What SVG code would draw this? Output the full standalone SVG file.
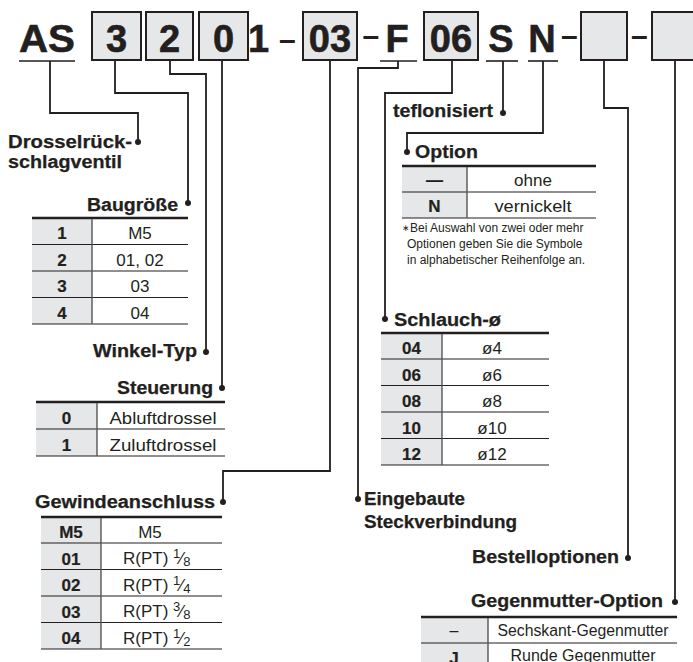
<svg xmlns="http://www.w3.org/2000/svg" width="693" height="662" viewBox="0 0 693 662">
<style>
text{font-family:"Liberation Sans",Arial,Helvetica,sans-serif;fill:#231f20}
.h{font-size:38px;font-weight:bold;stroke:#231f20;stroke-width:0.6}
.d{font-size:30px;font-weight:bold}
.lb{font-size:17.5px;font-weight:bold;stroke:#231f20;stroke-width:0.25}
.k{font-size:17px;font-weight:bold;text-anchor:middle;stroke:#231f20;stroke-width:0.2}
.v{font-size:17px;text-anchor:middle}
.vs{font-size:17px}
.g{font-size:16px;text-anchor:middle}
.fn{font-size:12px}
.m{text-anchor:middle}
.e{text-anchor:end}
.box{fill:#e6e7e8;stroke:#231f20;stroke-width:2}
.ul{stroke:#231f20;stroke-width:1.6}
.con{fill:none;stroke:#231f20;stroke-width:1.8}
.dot{fill:#231f20}
.kc{fill:#e6e7e8}
.top{stroke:#231f20;stroke-width:2.6}
.row{stroke:#231f20;stroke-width:1.1}
.dv{stroke:#555;stroke-width:1.4}
</style>
<rect width="693" height="662" fill="#fff"/>

<g id="header">
  <text class="h" x="19" y="52" textLength="56" lengthAdjust="spacingAndGlyphs">AS</text>
  <line class="ul" x1="19" y1="61" x2="75" y2="61"/>
  <rect class="box" x="92" y="12" width="49" height="48"/>
  <text class="h m" x="116.5" y="52">3</text>
  <rect class="box" x="146" y="12" width="47" height="48"/>
  <text class="h m" x="169.5" y="52">2</text>
  <rect class="box" x="199" y="12" width="49" height="48"/>
  <text class="h m" x="223.5" y="52">0</text>
  <text class="h" x="248" y="52">1</text>
  <text class="d" x="279" y="50">–</text>
  <rect class="box" x="303" y="12" width="54" height="48"/>
  <text class="h m" x="330" y="52">03</text>
  <text class="d" x="362.5" y="46">–</text>
  <text class="h" x="385.5" y="52">F</text>
  <line class="ul" x1="380" y1="61" x2="417" y2="61"/>
  <rect class="box" x="424" y="12" width="54" height="48"/>
  <text class="h m" x="451" y="52">06</text>
  <text class="h m" x="501" y="52">S</text>
  <line class="ul" x1="486" y1="61" x2="518" y2="61"/>
  <text class="h m" x="542" y="52">N</text>
  <line class="ul" x1="528" y1="61" x2="558" y2="61"/>
  <text class="d" x="561" y="46">–</text>
  <rect class="box" x="581" y="12" width="46" height="48"/>
  <text class="d" x="631" y="46">–</text>
  <rect class="box" x="652" y="12" width="48" height="48"/>
</g>

<g id="connectors">
  <path class="con" d="M50,61 V113 H138 V142"/>
  <circle class="dot" cx="138" cy="142" r="3"/>
  <path class="con" d="M115,60 V93 H188 V203"/>
  <circle class="dot" cx="188" cy="203" r="3"/>
  <path class="con" d="M170,60 V74 H206 V352"/>
  <circle class="dot" cx="206" cy="352" r="3"/>
  <path class="con" d="M222,60 V388"/>
  <circle class="dot" cx="222" cy="388" r="3"/>
  <path class="con" d="M330,60 V471 H223 V502"/>
  <circle class="dot" cx="223" cy="502" r="3"/>
  <path class="con" d="M398,61 V68 H358 V499"/>
  <circle class="dot" cx="358" cy="499" r="3"/>
  <path class="con" d="M452,60 V93 H385 V319"/>
  <circle class="dot" cx="385" cy="319" r="3"/>
  <path class="con" d="M503,61 V113"/>
  <circle class="dot" cx="503" cy="113" r="3"/>
  <path class="con" d="M543,61 V133 H407 V152"/>
  <circle class="dot" cx="407" cy="152" r="3"/>
  <path class="con" d="M604,60 V108 H628 V558"/>
  <circle class="dot" cx="628" cy="558" r="3"/>
  <path class="con" d="M675,60 V602"/>
  <circle class="dot" cx="675" cy="602" r="3"/>
</g>

<g id="drosselrueckschlagventil">
  <text class="lb" x="8" y="148" textLength="124" lengthAdjust="spacingAndGlyphs">Drosselrück-</text>
  <text class="lb" x="8" y="168" textLength="114" lengthAdjust="spacingAndGlyphs">schlagventil</text>
</g>

<g id="baugroesse">
  <text class="lb e" x="178" y="211" textLength="91" lengthAdjust="spacingAndGlyphs">Baugröße</text>
  <rect class="kc" x="32" y="218" width="60" height="106"/>
  <line class="top" x1="32" y1="218" x2="188" y2="218"/>
  <line class="row" x1="32" y1="244.5" x2="188" y2="244.5"/>
  <line class="row" x1="32" y1="271" x2="188" y2="271"/>
  <line class="row" x1="32" y1="297.5" x2="188" y2="297.5"/>
  <line class="row" x1="32" y1="324" x2="188" y2="324"/>
  <line class="dv" x1="92" y1="219" x2="92" y2="324"/>
  <text class="k" x="62" y="239">1</text><text class="v" x="140" y="239">M5</text>
  <text class="k" x="62" y="265.5">2</text><text class="v" x="140" y="265.5">01, 02</text>
  <text class="k" x="62" y="292">3</text><text class="v" x="140" y="292">03</text>
  <text class="k" x="62" y="318.5">4</text><text class="v" x="140" y="318.5">04</text>
</g>

<g id="winkel-typ">
  <text class="lb e" x="197" y="357" textLength="104" lengthAdjust="spacingAndGlyphs">Winkel-Typ</text>
</g>

<g id="steuerung">
  <text class="lb e" x="213" y="394" textLength="96" lengthAdjust="spacingAndGlyphs">Steuerung</text>
  <rect class="kc" x="36" y="402" width="61" height="54"/>
  <line class="top" x1="36" y1="402" x2="225" y2="402"/>
  <line class="row" x1="36" y1="429" x2="225" y2="429"/>
  <line class="row" x1="36" y1="456" x2="225" y2="456"/>
  <line class="dv" x1="97" y1="403" x2="97" y2="456"/>
  <text class="k" x="66.5" y="424">0</text><text class="v" x="163" y="424" textLength="107" lengthAdjust="spacingAndGlyphs">Abluftdrossel</text>
  <text class="k" x="66.5" y="451">1</text><text class="v" x="163" y="451" textLength="107" lengthAdjust="spacingAndGlyphs">Zuluftdrossel</text>
</g>

<g id="gewindeanschluss">
  <text class="lb" x="35" y="508" textLength="180" lengthAdjust="spacingAndGlyphs">Gewindeanschluss</text>
  <rect class="kc" x="41" y="517" width="60" height="132"/>
  <line class="top" x1="41" y1="517" x2="222" y2="517"/>
  <line class="row" x1="41" y1="543" x2="222" y2="543"/>
  <line class="row" x1="41" y1="569.5" x2="222" y2="569.5"/>
  <line class="row" x1="41" y1="596" x2="222" y2="596"/>
  <line class="row" x1="41" y1="622.5" x2="222" y2="622.5"/>
  <line class="row" x1="41" y1="649" x2="222" y2="649"/>
  <line class="dv" x1="101" y1="518" x2="101" y2="649"/>
  <text class="k" x="71" y="538">M5</text><text class="v" x="150" y="538">M5</text>
  <text class="k" x="71" y="565">01</text><text class="vs" x="123" y="564">R(PT) <tspan font-size="13" dy="-6">1</tspan><tspan dy="6">⁄</tspan><tspan font-size="13" dy="2">8</tspan></text>
  <text class="k" x="71" y="591">02</text><text class="vs" x="123" y="590.5">R(PT) <tspan font-size="13" dy="-6">1</tspan><tspan dy="6">⁄</tspan><tspan font-size="13" dy="2">4</tspan></text>
  <text class="k" x="71" y="618">03</text><text class="vs" x="123" y="617">R(PT) <tspan font-size="13" dy="-6">3</tspan><tspan dy="6">⁄</tspan><tspan font-size="13" dy="2">8</tspan></text>
  <text class="k" x="71" y="644">04</text><text class="vs" x="123" y="643.5">R(PT) <tspan font-size="13" dy="-6">1</tspan><tspan dy="6">⁄</tspan><tspan font-size="13" dy="2">2</tspan></text>
</g>

<g id="teflonisiert">
  <text class="lb e" x="493" y="117" textLength="100" lengthAdjust="spacingAndGlyphs">teflonisiert</text>
</g>

<g id="option">
  <text class="lb" x="415" y="158" textLength="63" lengthAdjust="spacingAndGlyphs">Option</text>
  <rect class="kc" x="402" y="166" width="65" height="52"/>
  <line class="top" x1="402" y1="166" x2="596" y2="166"/>
  <line class="row" x1="402" y1="192" x2="596" y2="192"/>
  <line class="row" x1="402" y1="218" x2="596" y2="218"/>
  <line class="dv" x1="467" y1="167" x2="467" y2="218"/>
  <text class="k" x="434.5" y="186">—</text><text class="v" x="533" y="186">ohne</text>
  <text class="k" x="434.5" y="212">N</text><text class="v" x="533" y="212" textLength="77" lengthAdjust="spacingAndGlyphs">vernickelt</text>
  <text class="fn" x="402" y="232"><tspan font-size="9" dy="-1">∗</tspan><tspan dy="1">Bei Auswahl von zwei oder mehr</tspan></text>
  <text class="fn" x="407" y="248">Optionen geben Sie die Symbole</text>
  <text class="fn" x="407" y="264">in alphabetischer Reihenfolge an.</text>
</g>

<g id="schlauch">
  <text class="lb" x="394" y="326" textLength="107" lengthAdjust="spacingAndGlyphs">Schlauch-ø</text>
  <rect class="kc" x="381" y="333" width="61" height="132"/>
  <line class="top" x1="381" y1="333" x2="549" y2="333"/>
  <line class="row" x1="381" y1="359" x2="549" y2="359"/>
  <line class="row" x1="381" y1="385.5" x2="549" y2="385.5"/>
  <line class="row" x1="381" y1="412" x2="549" y2="412"/>
  <line class="row" x1="381" y1="438.5" x2="549" y2="438.5"/>
  <line class="row" x1="381" y1="465" x2="549" y2="465"/>
  <line class="dv" x1="442" y1="334" x2="442" y2="465"/>
  <text class="k" x="411.5" y="354">04</text><text class="v" x="492" y="354">ø4</text>
  <text class="k" x="411.5" y="380.5">06</text><text class="v" x="492" y="380.5">ø6</text>
  <text class="k" x="411.5" y="407">08</text><text class="v" x="492" y="407">ø8</text>
  <text class="k" x="411.5" y="433.5">10</text><text class="v" x="492" y="433.5">ø10</text>
  <text class="k" x="411.5" y="460">12</text><text class="v" x="492" y="460">ø12</text>
</g>

<g id="eingebaute-steckverbindung">
  <text class="lb" x="364" y="505" textLength="101" lengthAdjust="spacingAndGlyphs">Eingebaute</text>
  <text class="lb" x="364" y="528" textLength="153" lengthAdjust="spacingAndGlyphs">Steckverbindung</text>
</g>

<g id="bestelloptionen">
  <text class="lb" x="472" y="563" textLength="147" lengthAdjust="spacingAndGlyphs">Bestelloptionen</text>
</g>

<g id="gegenmutter-option">
  <text class="lb" x="471" y="607" textLength="192" lengthAdjust="spacingAndGlyphs">Gegenmutter-Option</text>
  <rect class="kc" x="421" y="617" width="67" height="50"/>
  <line class="top" x1="421" y1="617" x2="677" y2="617"/>
  <line class="row" x1="421" y1="643" x2="677" y2="643"/>
  <line class="dv" x1="488" y1="618" x2="488" y2="662"/>
  <text class="g" x="454" y="636">–</text><text class="g" x="583" y="636" textLength="171" lengthAdjust="spacingAndGlyphs">Sechskant-Gegenmutter</text>
  <text class="k" x="454" y="664">J</text><text class="g" x="583" y="661">Runde Gegenmutter</text>
</g>
</svg>
